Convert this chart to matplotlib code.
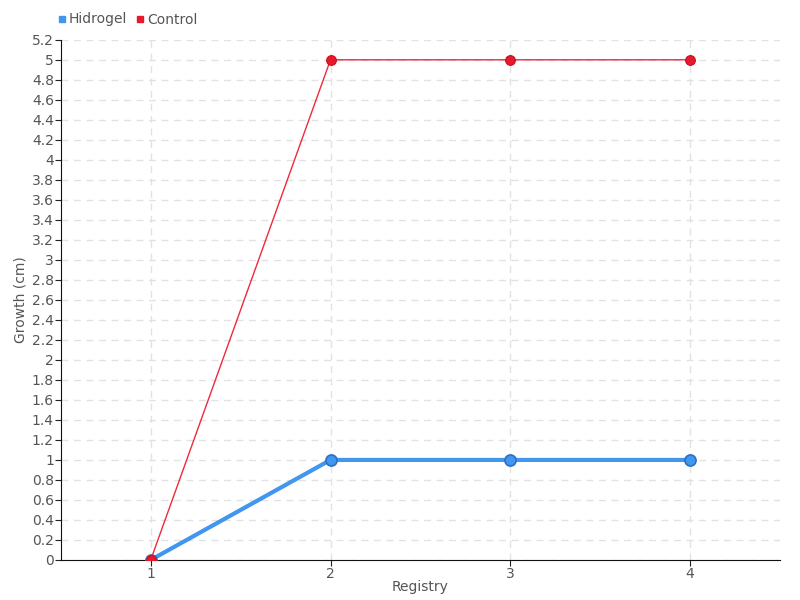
import matplotlib
matplotlib.use('Agg')
import matplotlib.pyplot as plt
from matplotlib.lines import Line2D
import numpy as np

# data
registry = [1, 2, 3, 4]
hidrogel = [0, 1, 1, 1]
control = [0, 5, 5, 5]
yticks = np.round(np.arange(0, 5.21, 0.2), 1)

plt.rcParams['font.family'] = 'DejaVu Sans'
txt = '#555555'

fig = plt.figure(figsize=(8, 6), dpi=100)
ax = fig.add_axes([0.076, 0.0667, 0.899, 0.867])

ax.plot(registry, hidrogel, color='#4196ee', lw=3, marker='o', ms=8,
        mfc='#4196ee', mec='#2f6fc0', mew=1.2, zorder=3, label='Hidrogel')
ax.plot(registry, control, color='#f0283c', lw=1, marker='o', ms=7,
        mfc='#e8192c', mec='#c81020', mew=0.8, zorder=4, label='Control')

ax.set_xlim(0.5, 4.5)
ax.set_ylim(0, 5.2)
ax.set_xticks(registry)
ax.set_yticks(yticks)
ax.set_yticklabels([f'{v:g}' for v in yticks])
ax.tick_params(colors='#222222', labelcolor=txt, labelsize=10, length=4, pad=1)
ax.grid(True, color='#e2e2e2', linestyle=(0, (5, 4)), lw=1)
ax.set_axisbelow(True)
for s in ['top', 'right']:
    ax.spines[s].set_visible(False)
for s in ['left', 'bottom']:
    ax.spines[s].set_color('#111111')

ax.set_xlabel('Registry', color=txt, fontsize=10, labelpad=-1)
ax.set_ylabel('Growth (cm)', color=txt, fontsize=10, labelpad=3)

handles = [Line2D([], [], ls='', marker='s', ms=5, color='#4196ee'),
           Line2D([], [], ls='', marker='s', ms=5, color='#e8192c')]
fig.legend(handles, ['Hidrogel', 'Control'], loc='upper left',
           bbox_to_anchor=(0.055, 1.0), ncol=2, frameon=False,
           handletextpad=0.1, columnspacing=0.5, fontsize=10,
           labelcolor=txt, handlelength=0.8)

plt.savefig('out.png', dpi=100)
